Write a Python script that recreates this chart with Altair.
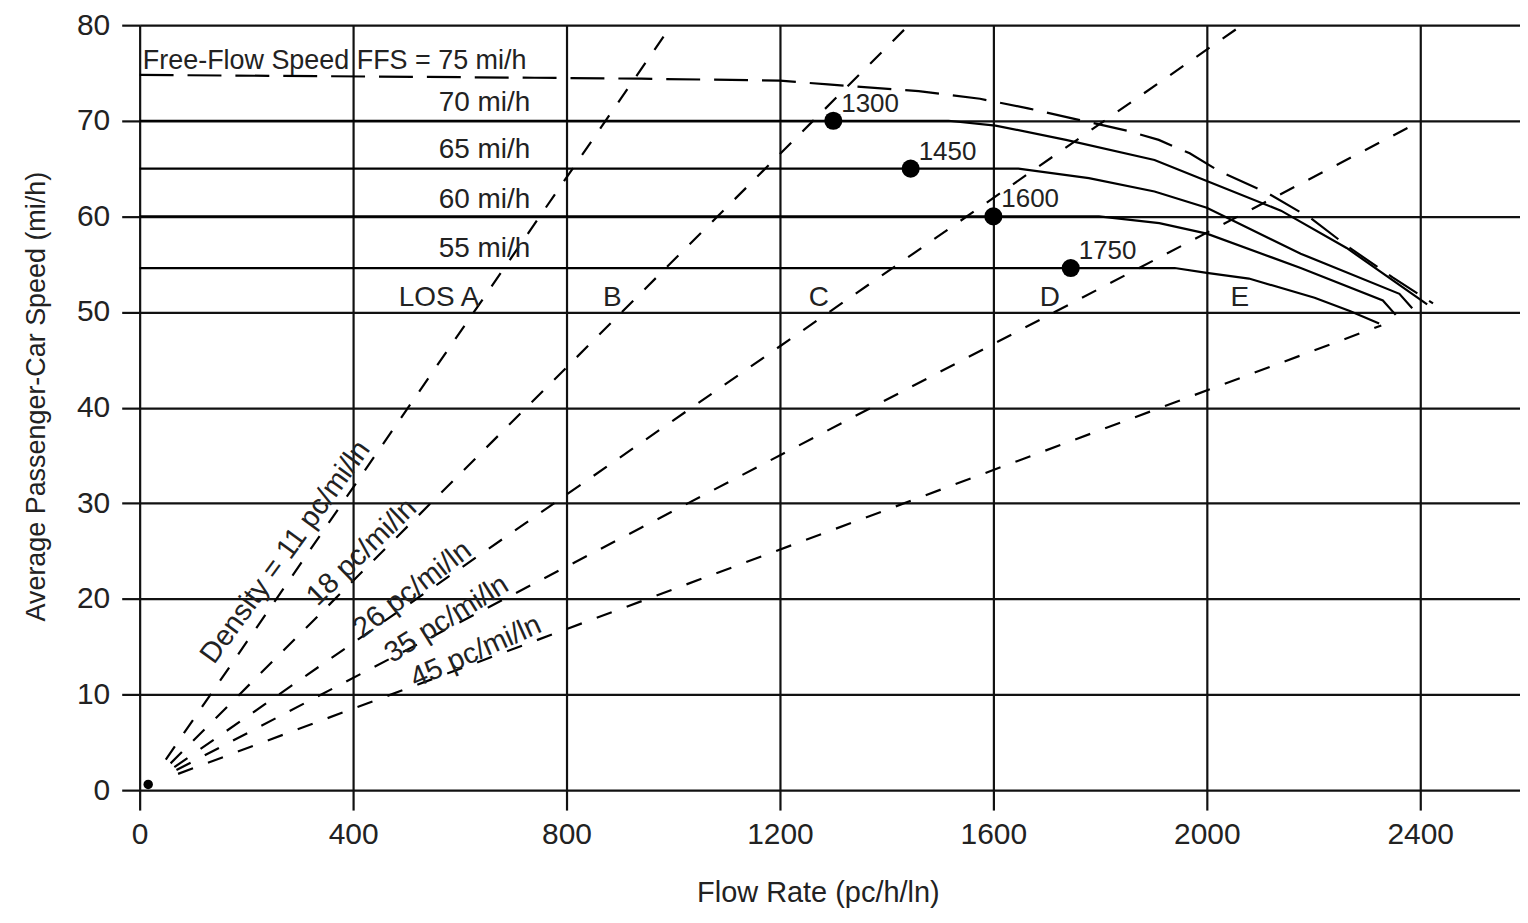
import altair as alt
import pandas as pd

FONT = "Liberation Sans, Arial, Helvetica, sans-serif"
INK = "#111111"
TXT = "#222222"

# ---- speed-flow curves ----
ffs75_flow = [0, 740, 940, 1200, 1290, 1460, 1575, 1665, 1760, 1855, 1910, 1968, 2024, 2112, 2195, 2268, 2349, 2424]
ffs75_speed = [74.8, 74.5, 74.4, 74.2, 73.8, 73.1, 72.3, 71.3, 70.1, 68.9, 68.0, 66.6, 64.7, 62.5, 59.8, 56.7, 53.6, 50.9]

ffs70_flow = [0, 1300, 1516, 1604, 1736, 1902, 2000, 2139, 2262, 2413]
ffs70_speed = [70.0, 70.0, 70.0, 69.5, 68.0, 65.9, 63.7, 60.6, 56.7, 50.8]

ffs65_flow = [0, 1445, 1647, 1779, 1902, 2000, 2176, 2361, 2385]
ffs65_speed = [65.0, 65.0, 65.0, 64.0, 62.6, 60.9, 56.1, 51.9, 50.4]

ffs60_flow = [0, 1600, 1798, 1911, 2000, 2176, 2330, 2354]
ffs60_speed = [60.0, 60.0, 60.0, 59.3, 58.2, 54.6, 51.2, 49.7]

ffs55_flow = [0, 1745, 1940, 2000, 2079, 2202, 2268, 2323]
ffs55_speed = [54.6, 54.6, 54.6, 54.1, 53.5, 51.5, 50.1, 48.8]

# ---- breakpoints ----
bp_flow = [1300, 1445, 1600, 1745]
bp_speed = [70.0, 65.0, 60.0, 54.6]
bp_label = ["1300", "1450", "1600", "1750"]

# ---- density lines ----
dens_label = ["Density = 11 pc/mi/ln", "18 pc/mi/ln", "26 pc/mi/ln", "35 pc/mi/ln", "45 pc/mi/ln"]
dens_start_flow = [49, 58, 65, 69, 72]
dens_start_speed = [3.2, 2.8, 2.4, 2.1, 1.7]
dens_end_flow = [988, 1436, 2066, 2385, 2327]
dens_end_speed = [79.3, 79.7, 80.0, 69.5, 48.6]
dens_label_flow = [273, 416, 511, 575, 630]
dens_label_speed = [24.9, 24.9, 21.0, 17.9, 14.5]
dens_label_angle = [306, 316, 322.5, 328, 336]

# ---- FFS labels ----
ffs_label = ["70 mi/h", "65 mi/h", "60 mi/h", "55 mi/h"]
ffs_label_speed = [71.9, 66.9, 61.7, 56.6]
ffs_label_flow = 732
ffs_title = "Free-Flow Speed FFS = 75 mi/h"

# ---- LOS labels ----
los_label = ["LOS A", "B", "C", "D", "E"]
los_flow = [561, 886, 1273, 1706, 2062]
los_speed = 51.5

origin_flow = [16]
origin_speed = [0.6]

x_ticks = [0, 400, 800, 1200, 1600, 2000, 2400]
y_ticks = [0, 10, 20, 30, 40, 50, 60, 70, 80]


def curve_df(name, flows, speeds):
    return pd.DataFrame({"curve": name, "flow": flows, "speed": speeds,
                         "order": list(range(len(flows)))})


solid_df = pd.concat([
    curve_df("70", ffs70_flow, ffs70_speed),
    curve_df("65", ffs65_flow, ffs65_speed),
    curve_df("60", ffs60_flow, ffs60_speed),
    curve_df("55", ffs55_flow, ffs55_speed),
], ignore_index=True)
dash_df = curve_df("75", ffs75_flow, ffs75_speed)

dens_rows = []
for i, lab in enumerate(dens_label):
    dens_rows.append({"curve": lab, "flow": dens_start_flow[i], "speed": dens_start_speed[i], "order": 0})
    dens_rows.append({"curve": lab, "flow": dens_end_flow[i], "speed": dens_end_speed[i], "order": 1})
dens_df = pd.DataFrame(dens_rows)

dens_lab_df = pd.DataFrame({"label": dens_label, "flow": dens_label_flow,
                            "speed": dens_label_speed, "ang": dens_label_angle})
bp_df = pd.DataFrame({"flow": bp_flow, "speed": bp_speed, "label": bp_label})
ffs_lab_df = pd.DataFrame({"label": ffs_label, "flow": [ffs_label_flow] * 4, "speed": ffs_label_speed})
title_df = pd.DataFrame({"label": [ffs_title], "flow": [6], "speed": [76.2]})
los_df = pd.DataFrame({"label": los_label, "flow": los_flow, "speed": [los_speed] * 5})
origin_df = pd.DataFrame({"flow": origin_flow, "speed": origin_speed})

xs = alt.Scale(domain=[0, 2587], nice=False, zero=False)
ys = alt.Scale(domain=[0, 80], nice=False, zero=False)

xaxis = alt.Axis(values=x_ticks, format="d", title="Flow Rate (pc/h/ln)", grid=True,
                 gridColor=INK, gridWidth=2.2, gridOpacity=1, tickSize=20, tickColor=INK,
                 tickWidth=2.2, domain=False, labelFont=FONT, labelFontSize=30,
                 labelColor=TXT, labelPadding=10, labelFlush=False, titleFont=FONT,
                 titleFontSize=29, titleFontWeight="normal", titleColor=TXT, titleX=680,
                 titleY=112, titleBaseline="alphabetic")
yaxis = alt.Axis(values=y_ticks, format="d", title="Average Passenger-Car Speed (mi/h)",
                 grid=True, gridColor=INK, gridWidth=2.2, gridOpacity=1, tickSize=18,
                 tickColor=INK, tickWidth=2.2, domain=False, labelFont=FONT,
                 labelFontSize=30, labelColor=TXT, labelPadding=12, titleFont=FONT,
                 titleFontSize=27, titleFontWeight="normal", titleColor=TXT, titleX=-95,
                 titleY=372, titleBaseline="alphabetic")

X = alt.X("flow:Q", scale=xs, axis=xaxis)
Y = alt.Y("speed:Q", scale=ys, axis=yaxis)

solid = alt.Chart(solid_df).mark_line(color="black", strokeWidth=2.2).encode(
    x=X, y=Y, detail="curve:N", order="order:Q")
dashed = alt.Chart(dash_df).mark_line(color="black", strokeWidth=2.2, strokeDash=[34, 14]).encode(
    x=X, y=Y, order="order:Q")
dens = alt.Chart(dens_df).mark_line(color="black", strokeWidth=2.2, strokeDash=[16, 16]).encode(
    x=X, y=Y, detail="curve:N", order="order:Q")
dens_text = alt.Chart(dens_lab_df).mark_text(font=FONT, fontSize=29, color=TXT,
                                             align="center", baseline="middle").encode(
    x=X, y=Y, text="label:N", angle=alt.Angle("ang:Q", scale=None))
dots = alt.Chart(bp_df).mark_circle(color="black", opacity=1, size=330).encode(x=X, y=Y)
dot_text = alt.Chart(bp_df).mark_text(font=FONT, fontSize=26, color=TXT, align="left",
                                      baseline="middle", dx=8, dy=-17).encode(
    x=X, y=Y, text="label:N")
origin = alt.Chart(origin_df).mark_circle(color="black", opacity=1, size=90).encode(x=X, y=Y)
ffs_text = alt.Chart(ffs_lab_df).mark_text(font=FONT, fontSize=28, color=TXT, align="right",
                                           baseline="middle").encode(x=X, y=Y, text="label:N")
title_text = alt.Chart(title_df).mark_text(font=FONT, fontSize=27, color=TXT, align="left",
                                           baseline="middle").encode(x=X, y=Y, text="label:N")
los_text = alt.Chart(los_df).mark_text(font=FONT, fontSize=28, color=TXT, align="center",
                                       baseline="middle").encode(x=X, y=Y, text="label:N")

chart = alt.layer(solid, dashed, dens, dens_text, dots, dot_text, origin, ffs_text,
                  title_text, los_text).properties(
    width=1384, height=767,
    padding={"left": 132, "top": 16, "right": 0, "bottom": 125},
    autosize=alt.AutoSizeParams(type="none"),
    background="white",
).configure_view(strokeWidth=0)

chart.save("out.html", embed_options={"renderer": "svg", "actions": False})
